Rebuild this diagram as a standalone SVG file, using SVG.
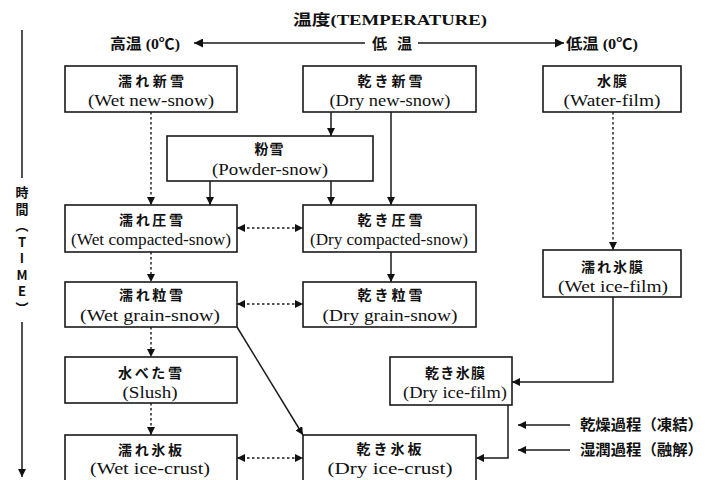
<svg xmlns="http://www.w3.org/2000/svg" width="708" height="480" viewBox="0 0 708 480">
<style>
.box{fill:#fff;stroke:#1a1a1a;stroke-width:1.6}
.jp{font-family:"Noto Sans CJK JP","Liberation Serif",serif;font-weight:bold;font-size:14px;fill:#111;text-anchor:middle}
.en{font-family:"Liberation Serif","Noto Sans CJK JP",serif;font-size:16px;fill:#111;text-anchor:middle}
.hd{font-family:"Liberation Serif","Noto Sans CJK JP",serif;font-weight:bold;font-size:15px;fill:#111}
.ax{font-family:"Noto Sans CJK JP","Liberation Serif",sans-serif;font-weight:bold;font-size:13px;fill:#111;writing-mode:vertical-rl;text-orientation:upright;letter-spacing:3.5px}
.s{fill:none;stroke:#1a1a1a;stroke-width:1.5}
.d{fill:none;stroke:#1a1a1a;stroke-width:1.4;stroke-dasharray:2.5 2.5}
</style>
<defs>
<marker id="a" viewBox="0 0 10 10" refX="10" refY="5" markerWidth="8" markerHeight="8" markerUnits="userSpaceOnUse" orient="auto-start-reverse"><path d="M0,0 L10,5 L0,10 z" fill="#111"/></marker>
<marker id="b" viewBox="0 0 10 10" refX="10" refY="5" markerWidth="10" markerHeight="9" markerUnits="userSpaceOnUse" orient="auto-start-reverse"><path d="M0,0 L10,5 L0,10 z" fill="#111"/></marker>
</defs>

<g id="header">
<text class="hd" x="390" y="25" text-anchor="middle" textLength="194" lengthAdjust="spacingAndGlyphs">温度(TEMPERATURE)</text>
<text class="hd" x="110" y="49" textLength="70" lengthAdjust="spacingAndGlyphs">高温 (0℃)</text>
<text class="hd" x="372" y="49" textLength="40" lengthAdjust="spacing">低 温</text>
<text class="hd" x="566" y="49" textLength="72" lengthAdjust="spacingAndGlyphs">低温 (0℃)</text>
<line class="s" x1="365" y1="43" x2="194" y2="43" stroke-width="2" marker-end="url(#b)"/>
<line class="s" x1="418" y1="43" x2="564" y2="43" stroke-width="2" marker-end="url(#b)"/>
</g>

<g id="time-axis">
<line class="s" x1="22" y1="30" x2="22" y2="178"/>
<line class="s" x1="22" y1="322" x2="22" y2="477" marker-end="url(#a)"/>
<text class="ax" x="22" y="186">時間（TIME）</text>
</g>

<g id="wet-new-snow">
<rect class="box" x="65" y="66" width="172" height="46"/>
<text class="jp" x="151" y="86" textLength="66">濡れ新雪</text>
<text class="en" x="151" y="106" textLength="126" lengthAdjust="spacingAndGlyphs">(Wet new-snow)</text>
</g>
<g id="dry-new-snow">
<rect class="box" x="303" y="66" width="173" height="46"/>
<text class="jp" x="390" y="86" textLength="65">乾き新雪</text>
<text class="en" x="390" y="106" textLength="121" lengthAdjust="spacingAndGlyphs">(Dry new-snow)</text>
</g>
<g id="water-film">
<rect class="box" x="543" y="66" width="138" height="46"/>
<text class="jp" x="612" y="86" textLength="30">水膜</text>
<text class="en" x="612" y="106" textLength="97" lengthAdjust="spacingAndGlyphs">(Water-film)</text>
</g>
<g id="powder-snow">
<rect class="box" x="167" y="136" width="206" height="45"/>
<text class="jp" x="269" y="154" textLength="29">粉雪</text>
<text class="en" x="270" y="175" textLength="116" lengthAdjust="spacingAndGlyphs">(Powder-snow)</text>
</g>
<g id="wet-compacted-snow">
<rect class="box" x="65" y="205" width="172" height="47"/>
<text class="jp" x="151" y="225" textLength="64">濡れ圧雪</text>
<text class="en" x="151" y="245" textLength="160" lengthAdjust="spacingAndGlyphs">(Wet compacted-snow)</text>
</g>
<g id="dry-compacted-snow">
<rect class="box" x="303" y="205" width="173" height="47"/>
<text class="jp" x="390" y="225" textLength="65">乾き圧雪</text>
<text class="en" x="389" y="245" textLength="158" lengthAdjust="spacingAndGlyphs">(Dry compacted-snow)</text>
</g>
<g id="wet-ice-film">
<rect class="box" x="543" y="250" width="138" height="47"/>
<text class="jp" x="612" y="272" textLength="62">濡れ氷膜</text>
<text class="en" x="613" y="292" textLength="110" lengthAdjust="spacingAndGlyphs">(Wet ice-film)</text>
</g>
<g id="wet-grain-snow">
<rect class="box" x="65" y="282" width="172" height="45"/>
<text class="jp" x="151" y="300" textLength="64">濡れ粒雪</text>
<text class="en" x="150" y="321" textLength="140" lengthAdjust="spacingAndGlyphs">(Wet grain-snow)</text>
</g>
<g id="dry-grain-snow">
<rect class="box" x="303" y="282" width="173" height="45"/>
<text class="jp" x="390" y="300" textLength="65">乾き粒雪</text>
<text class="en" x="390" y="321" textLength="135" lengthAdjust="spacingAndGlyphs">(Dry grain-snow)</text>
</g>
<g id="slush">
<rect class="box" x="65" y="357" width="172" height="46"/>
<text class="jp" x="150" y="378" textLength="64">水べた雪</text>
<text class="en" x="150" y="398" textLength="55" lengthAdjust="spacingAndGlyphs">(Slush)</text>
</g>
<g id="dry-ice-film">
<rect class="box" x="390" y="357" width="122" height="48"/>
<text class="jp" x="455" y="378" textLength="60">乾き氷膜</text>
<text class="en" x="455" y="398" textLength="104" lengthAdjust="spacingAndGlyphs">(Dry ice-film)</text>
</g>
<g id="wet-ice-crust">
<rect class="box" x="65" y="435" width="172" height="50"/>
<text class="jp" x="150" y="455" textLength="64">濡れ氷板</text>
<text class="en" x="150" y="474" textLength="120" lengthAdjust="spacingAndGlyphs">(Wet ice-crust)</text>
</g>
<g id="dry-ice-crust">
<rect class="box" x="303" y="435" width="173" height="50"/>
<text class="jp" x="389" y="454" textLength="65">乾き氷板</text>
<text class="en" x="390" y="474" textLength="125" lengthAdjust="spacingAndGlyphs">(Dry ice-crust)</text>
</g>

<g id="connectors">
<line class="s" x1="331" y1="112" x2="331" y2="136" marker-end="url(#a)"/>
<line class="s" x1="391" y1="112" x2="391" y2="205" marker-end="url(#a)"/>
<line class="d" x1="151" y1="112" x2="151" y2="205" marker-end="url(#a)"/>
<line class="s" x1="210" y1="181" x2="210" y2="205" marker-end="url(#a)"/>
<line class="s" x1="331" y1="181" x2="331" y2="205" marker-end="url(#a)"/>
<line class="d" x1="613" y1="112" x2="613" y2="250" marker-end="url(#a)"/>
<line class="d" x1="237" y1="228" x2="303" y2="228" marker-start="url(#a)" marker-end="url(#a)"/>
<line class="d" x1="151" y1="252" x2="151" y2="282" marker-end="url(#a)"/>
<line class="s" x1="391" y1="252" x2="391" y2="282" marker-end="url(#a)"/>
<line class="d" x1="237" y1="304" x2="303" y2="304" marker-start="url(#a)" marker-end="url(#a)"/>
<line class="d" x1="151" y1="327" x2="151" y2="357" marker-end="url(#a)"/>
<line class="s" x1="237" y1="327" x2="303" y2="435" marker-end="url(#a)"/>
<line class="d" x1="151" y1="403" x2="151" y2="435" marker-end="url(#a)"/>
<line class="d" x1="237" y1="458" x2="303" y2="458" marker-start="url(#a)" marker-end="url(#a)"/>
<polyline class="s" points="613,297 613,382 512,382" marker-end="url(#a)"/>
<polyline class="s" points="508,405 508,458 476,458" marker-end="url(#a)"/>
</g>

<g id="legend">
<line class="s" x1="570" y1="425" x2="518" y2="425" stroke-width="2" marker-end="url(#a)"/>
<line class="s" x1="570" y1="450" x2="518" y2="450" marker-end="url(#a)"/>
<text class="hd" x="580" y="430" font-size="14" textLength="123" lengthAdjust="spacingAndGlyphs">乾燥過程（凍結）</text>
<text class="hd" x="580" y="455" font-size="14" textLength="123" lengthAdjust="spacingAndGlyphs">湿潤過程（融解）</text>
</g>
</svg>
